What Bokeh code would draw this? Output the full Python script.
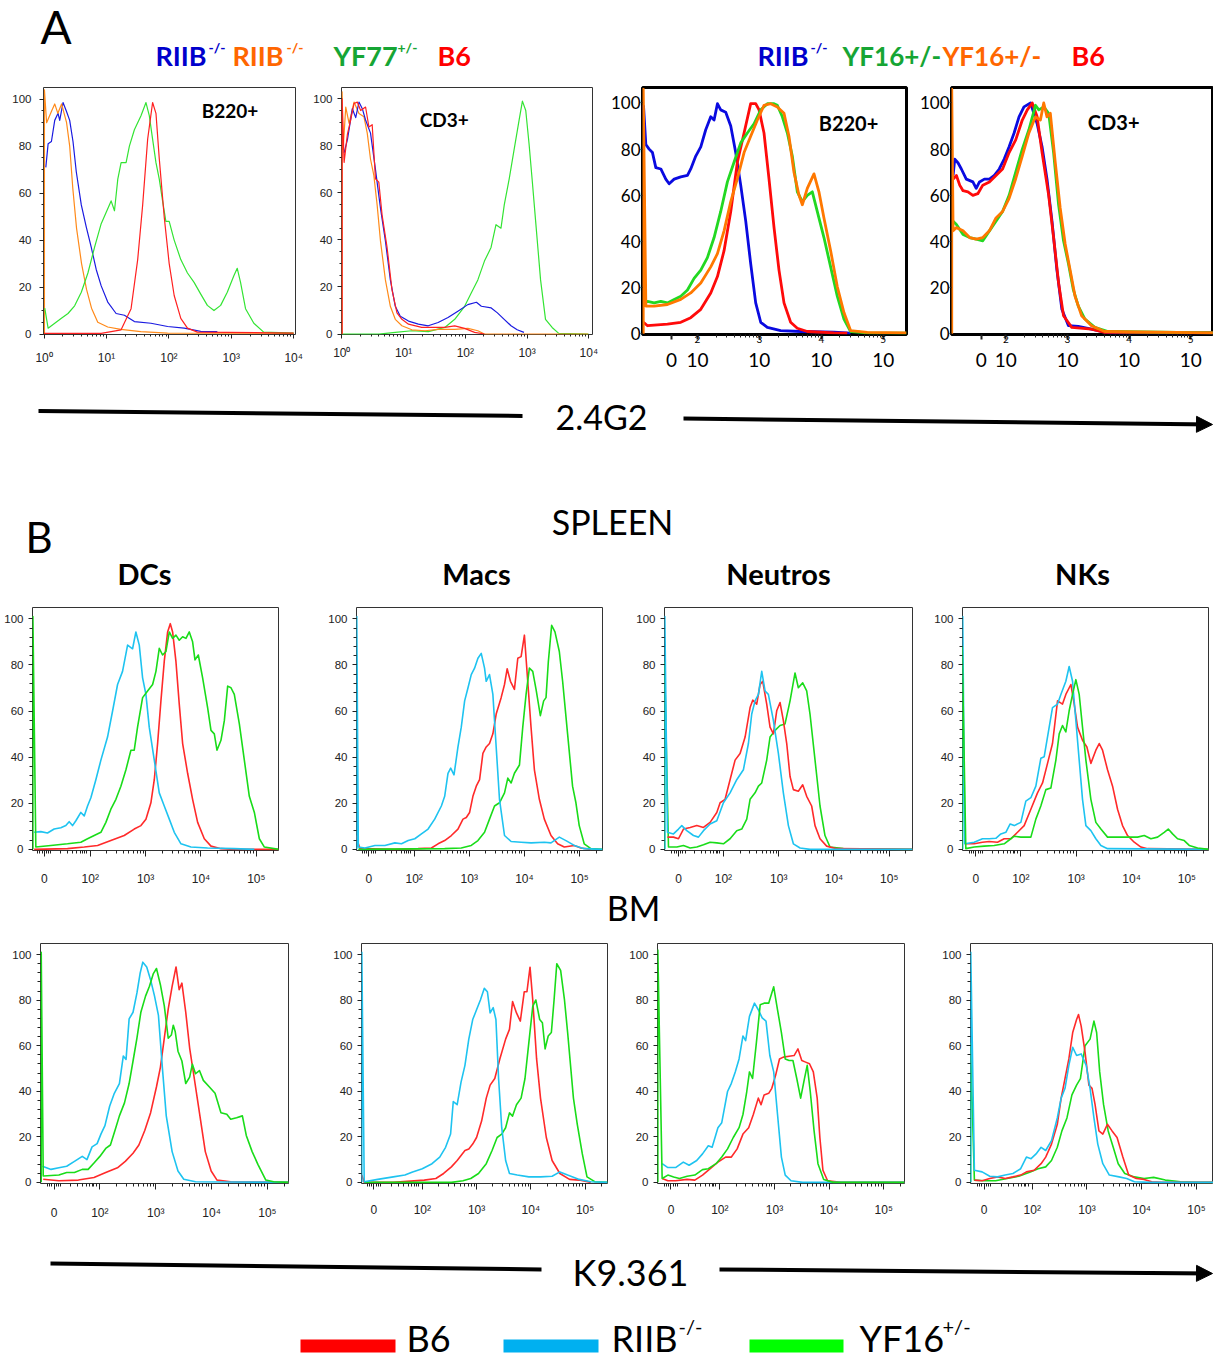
import numpy as np
from bokeh.plotting import figure
from bokeh.layouts import column, row
from bokeh.models import Range1d, FixedTicker, LinearAxis, Arrow, NormalHead
from bokeh.embed import file_html
from bokeh.resources import INLINE
from bokeh.core.properties import value

FONT = "Lato"
TICK_FONT = "Liberation Sans"

# ----------------------------------------------------------------- tick labels
Y_TICKS = [0, 20, 40, 60, 80, 100]
LOG_TICKS = [0, 1, 2, 3, 4]
LOG_LABELS = ["10⁰", "10¹", "10²", "10³", "10⁴"]
BIEX_DECADES = [2, 3, 4, 5]
BIEX_LABELS = ["10²", "10³", "10⁴", "10⁵"]
BIEX_EXPONENTS = ["2", "3", "4", "5"]

# ----------------------------------------------------------------- panel A1 (B220+, log axis, decades)
a1_blue_x = [0.027, 0.064, 0.117, 0.17, 0.223, 0.25, 0.303, 0.356, 0.41, 0.463, 0.516, 0.596, 0.676, 0.755, 0.835, 0.915, 1.02, 1.154, 1.287, 1.447, 1.713, 1.98, 2.245, 2.51, 2.777]
a1_blue_y = [71, 81, 82, 91, 94, 91, 98.6, 95, 91, 82, 69, 55, 45.5, 37, 27.5, 20.5, 13.6, 8.75, 8, 5.3, 4.6, 3.2, 2.5, 1.1, 1]
a1_orange_x = [0.005, 0.005, 0.04, 0.12, 0.17, 0.22, 0.28, 0.36, 0.41, 0.46, 0.52, 0.6, 0.68, 0.76, 0.86, 1.02, 1.23, 1.55, 1.98, 4.0]
a1_orange_y = [0, 104, 90, 95, 98, 94, 98, 90, 80, 62, 45, 30, 19, 11, 5, 3, 2, 1, 0.4, 0.3]
a1_green_x = [0.01, 0.064, 0.17, 0.277, 0.383, 0.489, 0.596, 0.702, 0.809, 0.915, 1.074, 1.128, 1.181, 1.234, 1.314, 1.367, 1.447, 1.553, 1.633, 1.686, 1.739, 1.793, 1.846, 1.899, 1.952, 2.005, 2.085, 2.191, 2.298, 2.404, 2.511, 2.617, 2.723, 2.83, 2.936, 3.04, 3.096, 3.149, 3.229, 3.362, 3.52, 4.0]
a1_green_y = [11, 2.5, 4.6, 6.7, 8.75, 12, 17.8, 26, 37, 47, 56.7, 52.5, 66, 73, 73, 80, 87, 93, 98.6, 93, 83, 73, 66, 56.7, 48, 48, 40, 31.7, 26, 22, 17, 12.2, 10, 12.2, 17.8, 24.7, 28, 22, 10.8, 4.6, 0.8, 0.4]
a1_red_x = [0.0, 0.915, 1.234, 1.394, 1.5, 1.58, 1.66, 1.739, 1.793, 1.846, 1.926, 2.005, 2.085, 2.191, 2.298, 2.457, 4.0]
a1_red_y = [0.3, 0.3, 1.8, 10.8, 31.7, 55, 83, 98.6, 94, 74.7, 49.7, 30, 16.4, 6.7, 2.5, 0.8, 0.4]

# ----------------------------------------------------------------- panel A2 (CD3+, log axis)
a2_red_x = [0.005, 0.005, 0.037, 0.091, 0.144, 0.198, 0.251, 0.305, 0.385, 0.439, 0.492, 0.545, 0.599, 0.652, 0.733, 0.813, 0.893, 0.973, 1.08, 1.294, 1.668, 1.829, 1.989, 2.15, 2.31]
a2_red_y = [0, 100, 73, 85, 91, 98, 98.6, 95, 96.5, 88, 89, 66, 64.6, 50.7, 36.8, 18.75, 9, 6.25, 4.2, 2.8, 2.8, 3.5, 2.4, 0.7, 0]
a2_blue_x = [0.037, 0.091, 0.171, 0.225, 0.278, 0.332, 0.385, 0.465, 0.545, 0.626, 0.706, 0.786, 0.866, 0.947, 1.08, 1.24, 1.40, 1.56, 1.72, 1.88, 2.04, 2.18, 2.26, 2.42, 2.52, 2.63, 2.74, 2.84, 2.95]
a2_blue_y = [77, 82.6, 95.8, 92, 98.6, 95.8, 91, 85.4, 70, 53.5, 39.6, 23, 11.8, 7.6, 5.5, 4.2, 3.5, 4.9, 7, 9.7, 12.5, 13.5, 11.8, 11.1, 9, 6.25, 3.5, 1.8, 0.7]
a2_orange_x = [0.005, 0.005, 0.021, 0.064, 0.118, 0.198, 0.278, 0.358, 0.412, 0.465, 0.519, 0.572, 0.626, 0.706, 0.786, 0.866, 0.973, 1.134, 1.348, 1.561, 1.829, 2.043, 2.203, 2.31, 3.99]
a2_orange_y = [0, 103, 78.5, 96.5, 89.6, 98.6, 93.75, 92.4, 85.4, 74.3, 67.4, 54.9, 39.6, 23, 11.8, 6.25, 3.5, 1.8, 1.4, 2.0, 2.0, 2.4, 1.4, 0, 0]
a2_green_x = [0.0, 0.599, 0.866, 1.134, 1.401, 1.668, 1.829, 1.989, 2.096, 2.203, 2.31, 2.417, 2.497, 2.578, 2.631, 2.711, 2.791, 2.872, 2.925, 2.979, 3.032, 3.086, 3.139, 3.219, 3.299, 3.406, 3.513, 3.995]
a2_green_y = [0, 0, 0.7, 1.4, 1.0, 2.8, 6.25, 11.8, 17.4, 23, 31, 36.8, 46.5, 45, 54.9, 66, 78.5, 91, 99, 95, 81, 64.6, 48, 23, 6.25, 2.8, 0.3, 0]

# ----------------------------------------------------------------- panel A3 (B220+, biexponential axis)
a3_blue_x = [1.129, 1.167, 1.22, 1.274, 1.328, 1.409, 1.489, 1.543, 1.624, 1.731, 1.839, 1.892, 1.973, 2.054, 2.134, 2.215, 2.269, 2.323, 2.376, 2.457, 2.538, 2.618, 2.699, 2.78, 2.86, 2.941, 3.022, 3.129, 3.344, 3.667, 4.204, 4.473]
a3_blue_y = [99, 82, 80, 78.5, 72, 71.4, 67, 65, 67, 68, 68.6, 71.4, 77, 81, 88.4, 94, 92.6, 99.7, 97, 96, 90, 78.5, 64.4, 48.8, 30.4, 13.4, 5, 2.8, 1.4, 1, 0.7, 0.3]
a3_red_x = [1.129, 1.194, 1.516, 1.731, 1.892, 2.054, 2.215, 2.323, 2.43, 2.538, 2.645, 2.753, 2.86, 2.941, 2.995, 3.075, 3.156, 3.237, 3.317, 3.398, 3.505, 3.613, 3.774, 4.204, 4.419]
a3_red_y = [5, 3.5, 4.2, 5, 7, 10.6, 17.7, 24.8, 36, 53, 74.3, 87, 99.7, 99.7, 97, 87, 67, 46, 27.6, 13.4, 5, 2.4, 1, 0.4, 0.3]
a3_green_x = [1.14, 1.194, 1.301, 1.409, 1.516, 1.624, 1.731, 1.839, 1.946, 2.054, 2.161, 2.269, 2.376, 2.484, 2.591, 2.699, 2.806, 2.914, 3.022, 3.129, 3.237, 3.29, 3.371, 3.452, 3.532, 3.613, 3.694, 3.774, 3.855, 3.935, 4.043, 4.151, 4.258, 4.366, 4.473, 4.742, 5.376]
a3_green_y = [13.4, 14, 13.4, 14, 13.4, 14.9, 16.3, 19, 24, 27.6, 33, 41.7, 53, 65.8, 74.3, 82.7, 87, 91, 97, 99.7, 99.7, 99, 94, 87, 77, 61.5, 57.3, 60, 61.5, 53, 41.7, 29, 16.3, 6.4, 1, 0.4, 0.3]
a3_orange_x = [1.125, 1.125, 1.167, 1.301, 1.516, 1.731, 1.892, 2.054, 2.215, 2.323, 2.43, 2.538, 2.645, 2.753, 2.86, 2.968, 3.075, 3.183, 3.29, 3.398, 3.478, 3.559, 3.64, 3.694, 3.774, 3.882, 3.962, 4.043, 4.151, 4.258, 4.366, 4.473, 4.742, 5.376]
a3_orange_y = [0, 106, 12, 12, 12.7, 14.9, 17.7, 22, 29, 34.7, 44.6, 57.3, 67.2, 78.5, 85.6, 92.6, 99, 99.7, 98.3, 95.5, 85.6, 70, 60, 55.9, 63, 69.3, 61.5, 50.2, 36, 20.5, 9.2, 1.4, 0.6, 0.4]

# ----------------------------------------------------------------- panel A4 (CD3+, biexponential axis)
a4_blue_x = [1.144, 1.171, 1.225, 1.278, 1.358, 1.465, 1.519, 1.572, 1.652, 1.733, 1.813, 1.893, 1.973, 2.053, 2.134, 2.214, 2.294, 2.401, 2.455, 2.508, 2.588, 2.668, 2.749, 2.829, 2.909, 3.016, 3.176, 3.39, 3.551, 3.711, 5.358]
a4_blue_y = [68.6, 75.7, 74, 71.4, 67, 65.8, 63, 65.8, 67, 67, 68.6, 71.4, 75.7, 81, 87, 94, 98.3, 100, 95.5, 91, 81, 67, 48.8, 27.6, 10.6, 3.5, 3.2, 2, 1, 0.4, 0.4]
a4_red_x = [1.144, 1.198, 1.251, 1.305, 1.385, 1.465, 1.545, 1.626, 1.733, 1.84, 1.947, 2.053, 2.16, 2.267, 2.348, 2.428, 2.508, 2.588, 2.695, 2.775, 2.856, 2.936, 3.07, 3.39, 3.604, 5.358]
a4_red_y = [67, 68.6, 64.4, 62, 61.5, 60, 60.7, 64.4, 65.8, 68.6, 71.4, 78.5, 84, 92.6, 97, 100, 94, 78.5, 60, 41.7, 22, 7.8, 2.8, 2, 0.6, 0.4]
a4_green_x = [1.144, 1.198, 1.305, 1.412, 1.519, 1.626, 1.733, 1.84, 1.947, 2.053, 2.16, 2.267, 2.374, 2.481, 2.535, 2.615, 2.695, 2.775, 2.856, 2.936, 3.016, 3.096, 3.176, 3.283, 3.444, 3.658, 5.358]
a4_green_y = [48.8, 47.4, 43, 41.7, 41, 40.3, 44.6, 48.8, 53, 60, 70, 80, 88.4, 99, 97, 98.3, 95.5, 78.5, 55.9, 40.3, 30.4, 19, 12, 6.4, 2.8, 1, 0.4]
a4_orange_x = [1.122, 1.122, 1.144, 1.198, 1.305, 1.412, 1.519, 1.626, 1.733, 1.84, 1.947, 2.053, 2.16, 2.267, 2.374, 2.481, 2.561, 2.615, 2.668, 2.722, 2.802, 2.882, 2.963, 3.043, 3.123, 3.23, 3.39, 3.604, 5.358]
a4_orange_y = [0, 106, 44.6, 46, 44.6, 41.7, 41, 41.7, 44.6, 50.2, 53, 58.7, 67.2, 77, 87, 94, 92.6, 100, 94, 95.5, 74.3, 54.5, 38.9, 27.6, 16.3, 7.8, 3.5, 1, 0.4]

# ----------------------------------------------------------------- B, spleen row
dc1_red_x = [0.988, 1.59, 1.892, 2.133, 2.373, 2.614, 2.795, 2.916, 3.006, 3.096, 3.157, 3.217, 3.277, 3.337, 3.398, 3.446, 3.488, 3.548, 3.608, 3.669, 3.759, 3.849, 3.94, 4.06, 4.181, 4.361, 4.602, 5.4]
dc1_red_y = [0, 0.3, 1, 1.7, 3.8, 6, 8.8, 10.3, 13.1, 20.2, 30.2, 45.9, 64.4, 81.5, 94.3, 97.9, 94.3, 81.5, 63, 45.9, 33, 21.7, 11.7, 4.6, 1.4, 0.3, 0, 0]
dc1_blue_x = [0.988, 1.108, 1.229, 1.349, 1.47, 1.56, 1.62, 1.681, 1.741, 1.831, 1.892, 1.952, 2.012, 2.102, 2.193, 2.313, 2.404, 2.494, 2.584, 2.675, 2.765, 2.825, 2.886, 2.946, 3.006, 3.066, 3.157, 3.247, 3.337, 3.428, 3.518, 3.639, 3.819, 4.12, 4.602, 4.964]
dc1_blue_y = [7.4, 7.7, 7.1, 8.8, 9.4, 10.3, 12, 10.3, 12.4, 16, 14.5, 18.8, 22.4, 30.2, 38.7, 48.7, 60, 71.5, 77.2, 88.6, 87, 94.3, 88.6, 74.4, 67.2, 53, 38.7, 24.5, 18.8, 13.1, 7.4, 2.4, 1, 0.6, 0.3, 0]
dc1_green_x = [0.965, 0.965, 1.018, 1.289, 1.59, 1.831, 1.952, 2.072, 2.193, 2.283, 2.373, 2.464, 2.554, 2.645, 2.735, 2.795, 2.855, 2.946, 3.036, 3.127, 3.187, 3.247, 3.307, 3.367, 3.428, 3.488, 3.548, 3.608, 3.669, 3.729, 3.789, 3.849, 3.892, 3.952, 4.03, 4.12, 4.181, 4.241, 4.289, 4.361, 4.422, 4.482, 4.542, 4.602, 4.693, 4.783, 4.873, 4.964, 5.054, 5.145, 5.404]
dc1_green_y = [0, 101, 1, 1.7, 2.4, 3.1, 4.6, 6, 7.4, 11.7, 17.4, 21.7, 27.4, 34.5, 43, 43, 53, 65.8, 68.7, 71.5, 77.2, 87.2, 84.3, 85.8, 94.3, 91.5, 92.9, 90.7, 92.2, 91.5, 94.3, 90, 82.2, 84.3, 74.4, 61.5, 51.6, 50.1, 43, 47.3, 55.8, 70.8, 70.1, 67.2, 54.4, 38.7, 23, 16, 4.6, 1, 0]

mac1_red_x = [0.96, 0.97, 1.018, 1.651, 2.072, 2.313, 2.434, 2.554, 2.675, 2.795, 2.886, 2.946, 3.006, 3.066, 3.127, 3.187, 3.247, 3.307, 3.367, 3.428, 3.488, 3.578, 3.639, 3.687, 3.747, 3.819, 3.88, 3.94, 4.0, 4.06, 4.12, 4.181, 4.271, 4.361, 4.482, 4.602, 4.723, 4.904, 5.024, 5.205]
mac1_red_y = [6, 3.8, 0.3, 0, 0.3, 0.6, 2.4, 3.8, 6, 8.8, 13.1, 13.8, 16, 23, 27.4, 30.2, 41.6, 44.4, 45.9, 50.1, 58.7, 65.8, 71.5, 78.3, 72.9, 69.4, 82.9, 83.6, 92.9, 72.9, 53, 34.5, 21.7, 13.1, 6, 2.4, 1, 1.7, 0.6, 0]
mac1_blue_x = [0.96, 0.96, 0.988, 1.108, 1.289, 1.47, 1.651, 1.771, 1.892, 2.012, 2.133, 2.253, 2.373, 2.494, 2.554, 2.614, 2.663, 2.723, 2.795, 2.855, 2.916, 2.976, 3.036, 3.096, 3.157, 3.217, 3.277, 3.307, 3.367, 3.428, 3.488, 3.548, 3.639, 3.759, 3.94, 4.12, 4.361, 4.482, 4.633, 4.753, 4.904, 5.084, 5.416]
mac1_blue_y = [0, 101, 1, 0.6, 1.7, 1.7, 2.8, 2.4, 3.8, 4.6, 6.7, 8.8, 13.1, 18.8, 23, 33, 35.2, 32.3, 44.4, 53, 64.4, 70, 75.8, 78.6, 82.9, 85, 78.6, 72.9, 75.8, 67.2, 44.4, 21.7, 6, 3.4, 3.1, 2.8, 3.1, 2.8, 5.3, 3.8, 1.7, 0.3, 0]
mac1_green_x = [0.988, 2.554, 2.855, 3.036, 3.157, 3.277, 3.367, 3.458, 3.548, 3.639, 3.699, 3.759, 3.819, 3.91, 3.97, 4.03, 4.09, 4.151, 4.211, 4.289, 4.349, 4.392, 4.434, 4.494, 4.554, 4.633, 4.693, 4.783, 4.873, 4.934, 4.994, 5.084, 5.205, 5.416]
mac1_green_y = [0, 0.3, 0.6, 1.7, 3.8, 7.4, 13.1, 18.8, 20.2, 24.5, 30.9, 28.8, 33, 36.6, 53, 67.2, 78.6, 77.2, 69.4, 58, 64.4, 65.8, 81.5, 97.2, 94.3, 85.8, 72.9, 50.1, 27.4, 20.2, 10.3, 2.4, 0.3, 0]

n1_red_x = [0.988, 1.096, 1.187, 1.277, 1.398, 1.518, 1.639, 1.759, 1.88, 1.94, 2.03, 2.12, 2.211, 2.301, 2.392, 2.482, 2.53, 2.602, 2.663, 2.711, 2.783, 2.843, 2.904, 2.964, 3.024, 3.084, 3.145, 3.205, 3.265, 3.355, 3.434, 3.506, 3.596, 3.657, 3.747, 3.867, 4.048, 5.42]
n1_red_y = [5.3, 5.3, 4.6, 8.8, 9.5, 10.3, 9.5, 11.7, 16, 20.2, 21.7, 30.2, 38.7, 41.6, 48.7, 61.5, 64.7, 63, 71.5, 72.9, 63, 53, 50.1, 60.1, 63.7, 55.8, 45.9, 31.6, 25.9, 25.2, 28, 23, 18.8, 10.3, 4.6, 1.4, 0.3, 0]
n1_blue_x = [0.94, 0.94, 0.988, 1.096, 1.187, 1.247, 1.337, 1.458, 1.548, 1.639, 1.759, 1.88, 2.0, 2.12, 2.241, 2.361, 2.452, 2.512, 2.572, 2.633, 2.693, 2.753, 2.813, 2.904, 2.994, 3.084, 3.175, 3.265, 3.386, 3.566, 5.42]
n1_blue_y = [0, 101, 7.4, 6.7, 8.8, 10.3, 8.1, 6, 5.3, 8.1, 11, 12.4, 20.2, 24.5, 30.2, 34.5, 45.9, 58.7, 64.4, 67.2, 77.2, 68.7, 67.2, 55.8, 41.6, 24.5, 10.3, 2.4, 0.6, 0, 0]
n1_green_x = [0.935, 0.935, 1.006, 1.157, 1.277, 1.398, 1.518, 1.639, 1.759, 1.88, 2.0, 2.12, 2.241, 2.331, 2.422, 2.482, 2.572, 2.633, 2.693, 2.783, 2.843, 2.934, 3.024, 3.114, 3.205, 3.295, 3.355, 3.434, 3.506, 3.566, 3.657, 3.747, 3.837, 3.928, 4.169, 5.42]
n1_green_y = [0, 81, 1, 1, 1.7, 0.6, 1, 2, 3.1, 2.8, 2.4, 4.6, 8.1, 8.8, 13.1, 21.7, 24.5, 27.4, 28.8, 38.7, 48.7, 51.6, 53.7, 54.4, 64.4, 76.5, 70.1, 72.2, 68.7, 58.7, 38.7, 18.8, 6, 1, 0.3, 0]

nk1_red_x = [0.988, 1.157, 1.307, 1.428, 1.578, 1.699, 1.819, 1.94, 2.06, 2.181, 2.301, 2.392, 2.482, 2.572, 2.663, 2.753, 2.813, 2.904, 2.964, 3.024, 3.114, 3.193, 3.265, 3.355, 3.416, 3.476, 3.566, 3.657, 3.747, 3.837, 3.928, 4.048, 4.169, 4.289, 5.392]
nk1_red_y = [2.4, 2.4, 3.1, 3.4, 3.1, 4.6, 4.6, 7.4, 10.3, 17.4, 24.5, 28.8, 37.3, 45.9, 64.4, 63, 67.2, 71.5, 63, 53, 47.3, 44.4, 37.3, 43, 45.9, 43, 34.5, 27.4, 17.4, 10.3, 6, 3.1, 1, 0.3, 0]
nk1_blue_x = [0.95, 0.95, 0.988, 1.157, 1.307, 1.428, 1.548, 1.639, 1.729, 1.807, 1.88, 2.0, 2.09, 2.181, 2.271, 2.361, 2.422, 2.512, 2.572, 2.663, 2.723, 2.813, 2.873, 2.934, 2.994, 3.054, 3.114, 3.175, 3.265, 3.355, 3.446, 3.566, 5.392]
nk1_blue_y = [0, 101, 2.4, 3.1, 4.6, 4.6, 4.8, 6.7, 7.4, 11, 10.3, 11.7, 20.9, 22.4, 27.4, 39.5, 40.2, 53, 61.5, 63, 67.2, 72.9, 79.3, 72.9, 55.8, 38.7, 21.7, 10.3, 8.1, 4.6, 1.7, 0.3, 0]
nk1_green_x = [0.94, 0.94, 1.006, 1.157, 1.337, 1.518, 1.699, 1.819, 1.88, 2.0, 2.09, 2.181, 2.271, 2.361, 2.452, 2.542, 2.633, 2.693, 2.753, 2.813, 2.873, 2.934, 2.994, 3.054, 3.114, 3.175, 3.265, 3.355, 3.446, 3.566, 3.747, 3.928, 4.108, 4.229, 4.349, 4.47, 4.59, 4.663, 4.741, 4.831, 4.952, 5.042, 5.193, 5.392]
nk1_green_y = [0, 88, 0.3, 1, 1.4, 1.7, 2.4, 4.6, 5.7, 5.3, 5.3, 5.3, 13.1, 18.8, 25.9, 26.6, 38.7, 50.1, 53.7, 50.9, 60.1, 67.2, 73.6, 67.2, 53, 38.7, 21.7, 11.7, 8.8, 5.3, 5.3, 5.3, 5.3, 6, 4.6, 5.3, 7.4, 8.8, 6.7, 4.6, 3.8, 1.7, 0.6, 0]

# ----------------------------------------------------------------- B, bone marrow row
dc2_red_x = [0.986, 1.266, 1.615, 1.895, 2.105, 2.315, 2.455, 2.594, 2.699, 2.804, 2.909, 3.014, 3.084, 3.154, 3.224, 3.294, 3.364, 3.42, 3.469, 3.538, 3.608, 3.678, 3.748, 3.818, 3.888, 3.993, 4.098, 4.343, 5.378]
dc2_red_y = [1.4, 0.7, 1.0, 2.1, 4.3, 6.4, 9.2, 12.8, 16.4, 22.8, 30.6, 42, 50.5, 63.3, 76.1, 86.1, 94.6, 84.6, 87.5, 74.7, 59, 47.7, 36.3, 24.9, 13.5, 5, 1, 0.3, 0]
dc2_blue_x = [0.972, 1.126, 1.266, 1.406, 1.545, 1.685, 1.769, 1.86, 1.951, 2.021, 2.091, 2.175, 2.259, 2.35, 2.42, 2.469, 2.524, 2.594, 2.664, 2.72, 2.769, 2.839, 2.909, 2.979, 3.049, 3.119, 3.189, 3.294, 3.399, 3.503, 3.713, 5.378]
dc2_blue_y = [7.1, 5.7, 6.4, 7.1, 9.2, 11.4, 10, 15.6, 17, 21.3, 24.9, 33.4, 39.1, 43.4, 55.5, 54, 71.8, 74.7, 83.2, 91.7, 96.7, 94.6, 88.9, 81.8, 73.3, 50.5, 29.2, 13.5, 5, 1.4, 0.3, 0]
dc2_green_x = [0.95, 0.95, 0.986, 1.266, 1.406, 1.545, 1.685, 1.79, 1.895, 2.0, 2.105, 2.189, 2.28, 2.35, 2.441, 2.524, 2.594, 2.664, 2.734, 2.818, 2.888, 2.958, 3.014, 3.084, 3.154, 3.224, 3.28, 3.315, 3.35, 3.399, 3.469, 3.538, 3.608, 3.657, 3.713, 3.783, 3.853, 3.958, 4.063, 4.168, 4.273, 4.343, 4.448, 4.552, 4.622, 4.727, 4.832, 4.972, 5.112, 5.378]
dc2_green_y = [0, 101, 2.8, 3.2, 4.3, 4.3, 5.7, 5.7, 8.5, 11.4, 14.9, 16.4, 23.5, 29.2, 34.9, 43.4, 53.3, 63.3, 74.7, 81.8, 86.1, 91.7, 93.9, 86.8, 77.5, 63.3, 64.7, 69, 66.1, 57.6, 53.3, 43.4, 46.2, 51.9, 47.7, 49.1, 44.8, 42, 39.1, 30.6, 29.9, 27.7, 28.4, 29.2, 20.6, 13.5, 7.8, 1, 0.3, 0]

mac2_red_x = [0.885, 0.929, 1.464, 2.036, 2.25, 2.393, 2.536, 2.643, 2.786, 2.857, 2.929, 3.0, 3.093, 3.179, 3.25, 3.336, 3.429, 3.536, 3.607, 3.664, 3.736, 3.807, 3.879, 3.929, 3.986, 4.036, 4.107, 4.179, 4.286, 4.393, 4.536, 4.714, 4.893, 5.107]
mac2_red_y = [3.2, 0, 0, 1, 1.7, 3.9, 6.8, 9.6, 14, 14.7, 16.8, 19.7, 26.9, 37, 42.7, 45.6, 54.2, 62.9, 67.2, 79.4, 74.4, 70.8, 83.7, 83.7, 94.5, 80.1, 54.2, 37, 19.7, 9.6, 3.9, 1.3, 1, 0]
mac2_blue_x = [0.885, 0.885, 0.929, 1.179, 1.464, 1.679, 1.821, 2.0, 2.179, 2.321, 2.429, 2.521, 2.571, 2.643, 2.714, 2.786, 2.857, 2.929, 3.0, 3.071, 3.143, 3.2, 3.25, 3.307, 3.357, 3.407, 3.464, 3.536, 3.607, 3.75, 3.964, 4.179, 4.393, 4.536, 4.679, 4.893, 5.107, 5.414]
mac2_blue_y = [0, 101, 0.3, 1.3, 2.4, 3.2, 4.6, 6, 8.2, 11.1, 15.4, 21.2, 35.5, 34.1, 44, 51.4, 62.9, 71.5, 75.8, 80.1, 85.2, 83.7, 74.4, 76.7, 71.5, 45.3, 24, 9.6, 3.9, 3.2, 2.4, 2.4, 2.7, 4.6, 3.2, 1.3, 0.3, 0]
mac2_green_x = [0.929, 2.536, 2.75, 2.893, 3.036, 3.179, 3.286, 3.379, 3.464, 3.536, 3.607, 3.664, 3.736, 3.821, 3.893, 3.964, 4.036, 4.093, 4.164, 4.214, 4.264, 4.321, 4.379, 4.429, 4.479, 4.55, 4.621, 4.679, 4.786, 4.857, 4.95, 5.036, 5.179, 5.414]
mac2_green_y = [0, 0, 0.7, 1.7, 3.9, 8.2, 14, 19.7, 21.2, 24, 30.5, 29.1, 34.1, 37, 45.6, 61.4, 77.3, 80.1, 71.5, 70.1, 58.6, 64.3, 65.8, 80.1, 96, 93.1, 80.1, 65.8, 37, 25.5, 12.5, 2.4, 0.3, 0]

n2_red_x = [0.944, 1.049, 1.19, 1.401, 1.542, 1.683, 1.824, 1.965, 2.106, 2.211, 2.317, 2.423, 2.528, 2.613, 2.704, 2.754, 2.81, 2.894, 2.951, 3.021, 3.092, 3.162, 3.268, 3.359, 3.43, 3.5, 3.57, 3.641, 3.711, 3.782, 3.831, 3.887, 3.972, 4.218, 5.38]
n2_red_y = [1.7, 0.7, 0.7, 1.3, 1.0, 3.2, 6, 8.9, 11.1, 11.1, 14.7, 21.2, 24, 29.8, 37, 34.1, 38.4, 39.1, 41.3, 47, 54.2, 55, 55.4, 55.7, 58.6, 53.5, 52.8, 52.1, 48.5, 37, 19.7, 5.3, 0.7, 0, 0]
n2_blue_x = [0.944, 1.049, 1.19, 1.331, 1.437, 1.577, 1.683, 1.789, 1.859, 1.965, 2.035, 2.141, 2.211, 2.282, 2.352, 2.423, 2.472, 2.542, 2.634, 2.704, 2.775, 2.845, 2.915, 2.986, 3.056, 3.127, 3.197, 3.303, 3.514, 5.38]
n2_blue_y = [8.2, 6.5, 6.5, 8.9, 7.5, 9.6, 12.5, 16.1, 15.4, 24, 26.2, 39.9, 43.5, 48.5, 54.2, 64.3, 62.2, 72.9, 78.7, 75.8, 72.2, 70.8, 55.7, 48.5, 29.8, 11.1, 3.2, 0.7, 0, 0]
n2_green_x = [0.865, 0.865, 0.944, 1.049, 1.155, 1.261, 1.401, 1.542, 1.683, 1.789, 1.93, 2.035, 2.141, 2.246, 2.352, 2.423, 2.493, 2.542, 2.599, 2.669, 2.739, 2.81, 2.894, 2.986, 3.056, 3.127, 3.197, 3.268, 3.338, 3.408, 3.479, 3.549, 3.599, 3.655, 3.725, 3.796, 3.901, 4.077, 5.38]
n2_green_y = [0, 102, 1.7, 3.2, 2.4, 1.7, 2.7, 3.2, 5.6, 6, 8.2, 11.1, 14.7, 19.7, 24, 29.8, 39.9, 48.5, 45.6, 61.4, 78, 78.7, 78.7, 85.9, 75.8, 65.8, 54.2, 53.5, 53.5, 45.6, 37, 45.6, 51.4, 39.9, 22.6, 8.2, 1.3, 0, 0]

nk2_red_x = [0.944, 1.085, 1.225, 1.366, 1.507, 1.648, 1.789, 1.894, 2.035, 2.162, 2.246, 2.352, 2.458, 2.528, 2.599, 2.669, 2.739, 2.81, 2.845, 2.894, 2.965, 3.035, 3.092, 3.148, 3.218, 3.289, 3.373, 3.458, 3.549, 3.655, 3.761, 3.901, 4.042, 4.183, 4.359, 5.31]
nk2_red_y = [1, 0.7, 1.7, 2.4, 1.7, 2.4, 3.2, 4.6, 5.3, 8.2, 11.1, 16.8, 25.5, 37, 45.6, 54.2, 65.8, 71.5, 73.7, 68.6, 57.1, 42.7, 41.3, 34.1, 22.6, 21.2, 25.5, 22.6, 19.7, 11.1, 3.2, 1.7, 1.3, 0.3, 0, 0]
nk2_blue_x = [0.878, 0.878, 0.944, 1.085, 1.225, 1.366, 1.507, 1.648, 1.789, 1.894, 1.979, 2.07, 2.162, 2.246, 2.352, 2.458, 2.528, 2.599, 2.669, 2.739, 2.81, 2.894, 2.986, 3.056, 3.127, 3.197, 3.289, 3.408, 3.585, 3.725, 3.866, 4.148, 5.31]
nk2_blue_y = [0, 101, 5.3, 4.6, 2.7, 2.4, 3.2, 3.9, 6, 11.1, 10.4, 12.5, 15.4, 14, 18.3, 28.3, 37, 41.3, 51.4, 59.3, 55.7, 56.4, 51.4, 41.3, 28.3, 16.8, 8.2, 3.2, 2.4, 1.7, 0.3, 0, 0]
nk2_green_x = [0.873, 0.873, 0.944, 1.12, 1.331, 1.542, 1.754, 1.965, 2.106, 2.246, 2.352, 2.458, 2.542, 2.634, 2.725, 2.81, 2.88, 2.965, 3.056, 3.127, 3.176, 3.232, 3.303, 3.387, 3.479, 3.57, 3.69, 3.866, 4.042, 4.218, 4.43, 4.711, 4.993, 5.31]
nk2_green_y = [0, 61, 1, 0.7, 0.7, 1.7, 2.7, 4.6, 6, 6.8, 9.6, 15.4, 22.6, 28.3, 38.4, 42.7, 45.6, 60, 62.9, 70.8, 65.8, 48.5, 34.1, 22.6, 15.4, 8.2, 3.9, 2.4, 1.7, 2.2, 1, 0.3, 0, 0]

# ----------------------------------------------------------------- colours
A_BLUE, A_ORANGE, A_GREEN, A_RED = "#1A1AE0", "#FF8A1A", "#33E433", "#FF2020"
T_BLUE, T_ORANGE, T_GREEN, T_RED = "#0A0AE0", "#FF7800", "#22D822", "#FF0A0A"
B_RED, B_CYAN, B_GREEN = "#FF2A2A", "#1EC3F0", "#19DC19"
L_BLUE, L_ORANGE, L_GREEN, L_RED = "#0000CC", "#FF6600", "#16A534", "#FF0000"

PAGE_W = 1213


def base_fig(w, h, bl, br, bt, bb, xr, yr):
    p = figure(width=w, height=h, x_range=Range1d(*xr), y_range=Range1d(*yr),
               min_border_left=bl, min_border_right=br, min_border_top=bt, min_border_bottom=bb,
               toolbar_location=None, output_backend="svg", title=None)
    p.grid.visible = False
    p.background_fill_color = "white"
    p.border_fill_color = "white"
    return p


def style_axis(ax, font, size, color, tick_out, minor_out, standoff, bold=False):
    ax.axis_line_color = None
    ax.major_label_text_font = font
    ax.major_label_text_font_size = f"{size}px"
    ax.major_label_text_font_style = "bold" if bold else "normal"
    ax.major_label_text_color = color
    ax.major_tick_out = tick_out
    ax.major_tick_in = 0
    ax.minor_tick_out = minor_out
    ax.minor_tick_in = 0
    ax.major_label_standoff = standoff
    ax.major_tick_line_color = "#222222"
    ax.minor_tick_line_color = "#222222"


def canvas(h, top):
    p = figure(width=PAGE_W, height=h, x_range=Range1d(0, PAGE_W), y_range=Range1d(top + h, top),
               x_axis_location=None, y_axis_location=None, min_border=0,
               toolbar_location=None, output_backend="svg", title=None)
    p.grid.visible = False
    p.outline_line_color = None
    p.background_fill_color = "white"
    p.border_fill_color = "white"
    return p


def txt(p, x, y, s, size, color="black", bold=False, align="left", baseline="middle"):
    p.text(x=[x], y=[y], text=[s], text_font=value(FONT), text_font_size=f"{size}px",
           text_font_style="bold" if bold else "normal", text_color=color,
           text_align=align, text_baseline=baseline)


# ----------------------------------------------------------------- A, log panels
def log_panel(w, h, bl, br, bt, bb, xr, yr, series, title, tx, ty, xstand, ystand):
    p = base_fig(w, h, bl, br, bt, bb, xr, yr)
    p.outline_line_color = "#333333"
    p.outline_line_width = 1
    minors = [d + np.log10(m) for d in range(4) for m in range(2, 10)]
    p.xaxis.ticker = FixedTicker(ticks=LOG_TICKS, minor_ticks=minors)
    p.xaxis.major_label_overrides = {t: s for t, s in zip(LOG_TICKS, LOG_LABELS)}
    p.yaxis.ticker = FixedTicker(ticks=Y_TICKS, minor_ticks=list(range(0, 101, 5)))
    style_axis(p.xaxis[0], TICK_FONT, 12, "#222222", 4, 2, xstand)
    style_axis(p.yaxis[0], TICK_FONT, 11.5, "#222222", 4, 2, ystand)
    for x, y, c in series:
        p.line(x, y, line_color=c, line_width=1.2, line_join="round")
    txt(p, tx, ty, title, 19, bold=True, align="center")
    return p


A1 = log_panel(310, 297, 43, 15, 9, 36, (-0.01, 4.03), (-0.2, 105.0),
               [(a1_blue_x, a1_blue_y, A_BLUE), (a1_orange_x, a1_orange_y, A_ORANGE),
                (a1_green_x, a1_green_y, A_GREEN), (a1_red_x, a1_red_y, A_RED)],
               "B220+", 2.98, 95, 12, 8)
A2 = log_panel(295, 297, 29, 13, 6, 39, (-0.005, 4.06), (-0.2, 104.8),
               [(a2_green_x, a2_green_y, A_GREEN), (a2_orange_x, a2_orange_y, A_ORANGE),
                (a2_blue_x, a2_blue_y, A_BLUE), (a2_red_x, a2_red_y, A_RED)],
               "CD3+", 1.66, 91.3, 7, 5)


# ----------------------------------------------------------------- A, biexponential panels
def biex_a_panel(w, h, bl, br, bt, bb, xr, zero, series, title, tx, ty):
    p = base_fig(w, h, bl, br, bt, bb, xr, (-0.3, 106.7))
    p.outline_line_color = "black"
    p.outline_line_width = 3
    ticks = [zero] + BIEX_DECADES
    minors = [d + np.log10(m) for d in (2, 3, 4) for m in range(2, 10)]
    p.xaxis.ticker = FixedTicker(ticks=ticks, minor_ticks=minors)
    p.xaxis.major_label_overrides = dict([(zero, "")] + list(zip(BIEX_DECADES, BIEX_EXPONENTS)))
    style_axis(p.xaxis[0], FONT, 10, "black", 5, 3, -4)
    p.xaxis[0].major_label_text_align = "left"
    p.xaxis[0].major_tick_line_width = 2
    ax2 = LinearAxis(ticker=FixedTicker(ticks=ticks))
    ax2.major_label_overrides = dict([(zero, "0")] + [(d, "10") for d in BIEX_DECADES])
    style_axis(ax2, FONT, 19, "black", 0, 0, 7)
    ax2.major_tick_line_color = None
    ax2.minor_tick_line_color = None
    p.add_layout(ax2, "below")
    p.yaxis.ticker = FixedTicker(ticks=Y_TICKS)
    style_axis(p.yaxis[0], FONT, 17, "black", 2, 0, 0)
    for x, y, c in series:
        p.line(x, y, line_color=c, line_width=2.8, line_join="round")
    txt(p, tx, ty, title, 20, bold=True, align="center")
    return p


A3 = biex_a_panel(311, 297, 37, 10, 4, 41, (1.113, 5.376), 1.58,
                  [(a3_blue_x, a3_blue_y, T_BLUE), (a3_red_x, a3_red_y, T_RED),
                   (a3_green_x, a3_green_y, T_GREEN), (a3_orange_x, a3_orange_y, T_ORANGE)],
                  "B220+", 4.44, 91.3)
A4 = biex_a_panel(297, 297, 32, 0, 4, 41, (1.118, 5.37), 1.6,
                  [(a4_blue_x, a4_blue_y, T_BLUE), (a4_red_x, a4_red_y, T_RED),
                   (a4_green_x, a4_green_y, T_GREEN), (a4_orange_x, a4_orange_y, T_ORANGE)],
                  "CD3+", 3.75, 91.9)


# ----------------------------------------------------------------- B panels
def b_panel(w, h, bl, br, bt, bb, xr, zero, series, xstand=15):
    p = base_fig(w, h, bl, br, bt, bb, xr, (-0.5, 104.9))
    p.outline_line_color = "#333333"
    p.outline_line_width = 1
    ticks = [zero] + BIEX_DECADES
    minors = [d + np.log10(m) for d in (2, 3, 4) for m in range(2, 10)] + [5.301]
    minors += [zero + f * (2 - zero) for f in (0.36, 0.51, 0.61, 0.71, 0.78, 0.84, 0.87, 0.92)]
    minors += [zero + d for d in (-0.12, -0.08, -0.04, 0.04, 0.08, 0.12)]
    p.xaxis.ticker = FixedTicker(ticks=ticks, minor_ticks=minors)
    p.xaxis.major_label_overrides = dict([(zero, "0")] + list(zip(BIEX_DECADES, BIEX_LABELS)))
    p.yaxis.ticker = FixedTicker(ticks=Y_TICKS, minor_ticks=list(range(0, 101, 4)))
    style_axis(p.xaxis[0], TICK_FONT, 12, "#222222", 6, 3, xstand)
    style_axis(p.yaxis[0], TICK_FONT, 11.5, "#222222", 4, 3, 5)
    for x, y, c in series:
        p.line(x, y, line_color=c, line_width=1.6, line_join="round")
    return p


DC1 = b_panel(325, 290, 32, 47, 9, 35, (0.958, 5.40), 1.17,
              [(dc1_red_x, dc1_red_y, B_RED), (dc1_blue_x, dc1_blue_y, B_CYAN), (dc1_green_x, dc1_green_y, B_GREEN)])
MAC1 = b_panel(300, 290, 30, 23, 9, 35, (0.955, 5.416), 1.18,
               [(mac1_red_x, mac1_red_y, B_RED), (mac1_green_x, mac1_green_y, B_GREEN), (mac1_blue_x, mac1_blue_y, B_CYAN)])
N1 = b_panel(305, 290, 39, 18, 9, 35, (0.934, 5.42), 1.187,
             [(n1_green_x, n1_green_y, B_GREEN), (n1_red_x, n1_red_y, B_RED), (n1_blue_x, n1_blue_y, B_CYAN)])
NK1 = b_panel(283, 290, 32, 5, 9, 35, (0.946, 5.39), 1.187,
              [(nk1_red_x, nk1_red_y, B_RED), (nk1_blue_x, nk1_blue_y, B_CYAN), (nk1_green_x, nk1_green_y, B_GREEN)])

DC2 = b_panel(330, 295, 40, 42, 13, 36, (0.937, 5.378), 1.18,
              [(dc2_red_x, dc2_red_y, B_RED), (dc2_blue_x, dc2_blue_y, B_CYAN), (dc2_green_x, dc2_green_y, B_GREEN)],
              xstand=16)
MAC2 = b_panel(295, 295, 29, 18, 7, 42, (0.879, 5.414), 1.107,
               [(mac2_red_x, mac2_red_y, B_RED), (mac2_green_x, mac2_green_y, B_GREEN), (mac2_blue_x, mac2_blue_y, B_CYAN)],
               xstand=13)
N2 = b_panel(305, 295, 32, 26, 7, 42, (0.859, 5.38), 1.106,
             [(n2_red_x, n2_red_y, B_RED), (n2_blue_x, n2_blue_y, B_CYAN), (n2_green_x, n2_green_y, B_GREEN)],
             xstand=13)
NK2 = b_panel(283, 295, 40, 0, 7, 42, (0.873, 5.31), 1.12,
              [(nk2_green_x, nk2_green_y, B_GREEN), (nk2_red_x, nk2_red_y, B_RED), (nk2_blue_x, nk2_blue_y, B_CYAN)],
              xstand=13)

# ----------------------------------------------------------------- header of A
HA = canvas(78, 0)
txt(HA, 40, 26, "A", 46)
txt(HA, 155, 55, "RIIB", 27, L_BLUE, True)
txt(HA, 208, 47, "-/-", 14, L_BLUE, True)
txt(HA, 232, 55, "RIIB", 27, L_ORANGE, True)
txt(HA, 286, 47, "-/-", 14, L_ORANGE, True)
txt(HA, 333, 55, "YF77", 27, L_GREEN, True)
txt(HA, 397, 47, "+/-", 14, L_GREEN, True)
txt(HA, 437, 55, "B6", 27, L_RED, True)
txt(HA, 757, 55, "RIIB", 27, L_BLUE, True)
txt(HA, 810, 47, "-/-", 14, L_BLUE, True)
txt(HA, 842, 55, "YF16+/-", 26, L_GREEN, True)
txt(HA, 942, 55, "YF16+/-", 26, L_ORANGE, True)
txt(HA, 1071, 55, "B6", 27, L_RED, True)

# ----------------------------------------------------------------- arrow of A + header of B
HB = canvas(223, 375)
HB.line([38, 522], [410.5, 415.5], line_color="black", line_width=4)
txt(HB, 601, 416, "2.4G2", 34, align="center")
HB.add_layout(Arrow(end=NormalHead(size=16, fill_color="black", line_color="black"),
                    x_start=683, y_start=418, x_end=1212, y_end=424, line_width=4, line_color="black"))
txt(HB, 25, 536, "B", 42)
txt(HB, 612, 521, "SPLEEN", 34, align="center")
for cx, s in ((144, "DCs"), (476, "Macs"), (778, "Neutros"), (1082, "NKs")):
    txt(HB, cx, 573, s, 29, bold=True, align="center")

# ----------------------------------------------------------------- BM label
HM = canvas(42, 888)
txt(HM, 633, 907, "BM", 34, align="center")

# ----------------------------------------------------------------- bottom arrow + legend
HL = canvas(135, 1225)
HL.line([50, 541], [1263, 1269], line_color="black", line_width=4)
txt(HL, 630, 1271, "K9.361", 36, align="center")
HL.add_layout(Arrow(end=NormalHead(size=16, fill_color="black", line_color="black"),
                    x_start=719, y_start=1269, x_end=1212, y_end=1273, line_width=4, line_color="black"))
HL.quad(left=[300], right=[395], top=[1339], bottom=[1352], fill_color="#FF0000", line_color=None)
HL.quad(left=[503], right=[598], top=[1339], bottom=[1352], fill_color="#00B0F0", line_color=None)
HL.quad(left=[749], right=[843], top=[1339], bottom=[1352], fill_color="#00FF00", line_color=None)
txt(HL, 406, 1337, "B6", 36)
txt(HL, 611, 1337, "RIIB", 36)
txt(HL, 678, 1325, "-/-", 20)
txt(HL, 859, 1337, "YF16", 36)
txt(HL, 942, 1325, "+/-", 20)

layout = column(
    HA,
    row(A1, A2, A3, A4),
    HB,
    row(DC1, MAC1, N1, NK1),
    HM,
    row(DC2, MAC2, N2, NK2),
    HL,
)

open("out.html", "w").write(file_html(layout, INLINE))
